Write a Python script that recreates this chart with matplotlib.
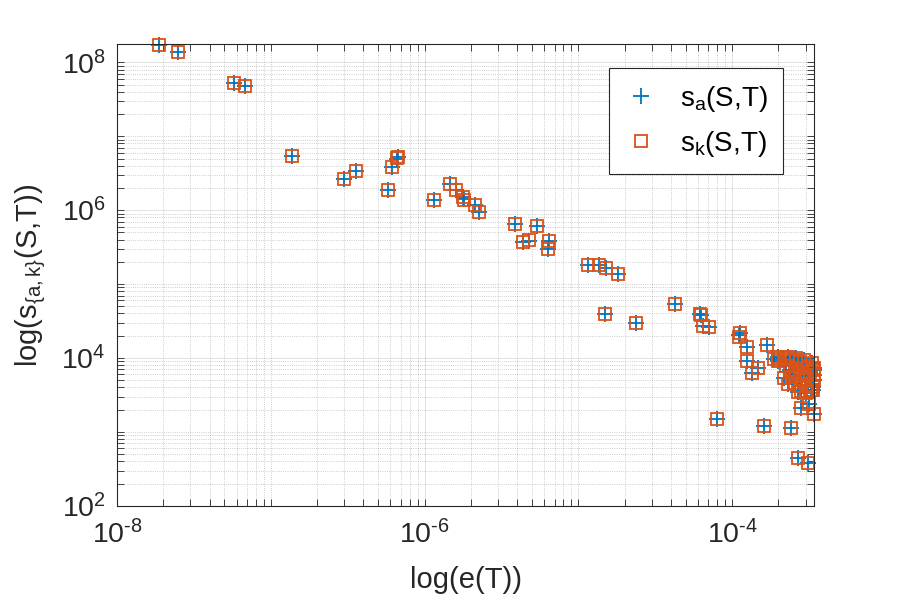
import numpy as np
import matplotlib.pyplot as plt

plt.rcParams['font.family'] = ['Liberation Sans', 'DejaVu Sans']
plt.rcParams['mathtext.fontset'] = 'custom'
plt.rcParams['mathtext.rm'] = 'Liberation Sans'
plt.rcParams['mathtext.it'] = 'Liberation Sans'
plt.rcParams['mathtext.default'] = 'regular'

# e(T) values
e_T = [1.88e-8, 2.5e-8, 5.8e-8, 6.8e-8, 1.38e-7, 3.0e-7, 3.6e-7, 5.8e-7, 6.17e-7,
       6.6e-7, 6.7e-7, 1.15e-6, 1.47e-6, 1.61e-6, 1.77e-6, 1.80e-6, 2.14e-6, 2.27e-6,
       3.89e-6, 5.38e-6, 4.38e-6, 4.77e-6, 6.47e-6, 6.37e-6, 1.16e-5, 1.36e-5,
       1.51e-5, 1.82e-5, 1.5e-5, 2.38e-5, 4.26e-5, 6.18e-5, 6.3e-5, 6.49e-5, 7.03e-5,
       1.12e-4, 1.11e-4, 1.25e-4, 1.69e-4, 1.25e-4, 1.48e-4, 1.35e-4, 1.87e-4, 2.0e-4,
       # dense cluster at the right edge
       1.99e-4, 2.17e-4, 2.31e-4, 2.45e-4, 2.60e-4, 2.76e-4, 2.93e-4, 3.11e-4, 3.30e-4,
       3.42e-4, 3.42e-4, 2.17e-4, 2.38e-4, 2.56e-4, 2.76e-4, 2.97e-4, 3.21e-4, 3.40e-4,
       2.31e-4, 2.56e-4, 2.84e-4, 3.11e-4, 3.35e-4, 2.68e-4, 3.02e-4, 3.25e-4, 3.42e-4,
       2.24e-4, 2.76e-4, 2.45e-4,
       2.8e-4, 3.37e-4, 2.8e-4, 3.16e-4, 3.4e-4,
       8.0e-5, 1.62e-4, 2.42e-4, 2.69e-4, 3.13e-4]

s_a = [1.71e8, 1.36e8, 5.2e7, 4.75e7, 5.37e6, 2.62e6, 3.37e6, 1.86e6, 3.81e6,
       5.0e6, 5.3e6, 1.36e6, 2.25e6, 1.86e6, 1.5e6, 1.4e6, 1.17e6, 9.4e5,
       6.47e5, 6.08e5, 3.73e5, 3.85e5, 3.85e5, 2.97e5, 1.81e5, 1.81e5,
       1.64e5, 1.36e5, 3.94e4, 2.97e4, 5.37e4, 3.94e4, 3.8e4, 2.73e4, 2.62e4,
       2.18e4, 2.05e4, 1.41e4, 1.51e4, 9.1e3, 7.33e3, 6.27e3, 9.7e3, 9.0e3,
       1.04e4, 1.01e4, 1.04e4, 9.5e3, 1.01e4, 8.9e3, 9.5e3, 7.9e3, 8.6e3,
       7.4e3, 5.9e3, 5.4e3, 6.95e3, 6.1e3, 7.4e3, 5.77e3, 6.5e3, 5.1e3,
       4.5e3, 4.6e3, 5.1e3, 4.35e3, 4.1e3, 3.5e3, 3.4e3, 3.73e3, 6.95e3,
       7.9e3, 4.2e3, 5.6e3,
       3.54e3, 3.74e3, 2.13e3, 2.39e3, 1.76e3,
       1.5e3, 1.2e3, 1.13e3, 446, 381]

s_k = [1.71e8, 1.36e8, 5.2e7, 4.75e7, 5.37e6, 2.62e6, 3.37e6, 1.86e6, 3.81e6,
       5.1e6, 5.3e6, 1.36e6, 2.25e6, 1.86e6, 1.52e6, 1.38e6, 1.17e6, 9.4e5,
       6.47e5, 6.08e5, 3.73e5, 3.9e5, 3.85e5, 2.97e5, 1.81e5, 1.81e5,
       1.64e5, 1.36e5, 3.94e4, 2.97e4, 5.37e4, 3.9e4, 3.8e4, 2.73e4, 2.62e4,
       2.2e4, 1.92e4, 1.41e4, 1.51e4, 9.1e3, 7.33e3, 6.27e3, 9.7e3, 9.0e3,
       1.04e4, 1.01e4, 1.04e4, 9.5e3, 1.01e4, 8.9e3, 9.5e3, 7.9e3, 8.6e3,
       7.4e3, 5.9e3, 5.4e3, 6.95e3, 6.1e3, 7.4e3, 5.77e3, 6.5e3, 5.1e3,
       4.5e3, 4.6e3, 5.1e3, 4.35e3, 4.1e3, 3.5e3, 3.4e3, 3.73e3, 6.95e3,
       7.9e3, 4.2e3, 5.6e3,
       3.54e3, 3.74e3, 2.13e3, 2.39e3, 1.76e3,
       1.5e3, 1.2e3, 1.13e3, 446, 381]

x_ticks = [1e-8, 1e-6, 1e-4]
x_labels = [r'$10^{\text{-}8}$', r'$10^{\text{-}6}$', r'$10^{\text{-}4}$']
y_ticks = [1e2, 1e4, 1e6, 1e8]
y_labels = [r'$10^{2}$', r'$10^{4}$', r'$10^{6}$', r'$10^{8}$']

blue = '#0072BD'
orange = '#D95319'
dark = '#262626'

fig = plt.figure(figsize=(9, 6), dpi=100)
ax = fig.add_axes([0.13, 0.157, 0.7748, 0.769])

ax.plot(e_T, s_a, '+', color=blue, ms=11, mew=1.3, clip_on=False, label=r's$_a$(S,T)')
ax.plot(e_T, s_k, 's', color=orange, mfc='none', ms=9, mew=1.3, clip_on=False,
        label=r's$_k$(S,T)')

ax.set_xscale('log')
ax.set_yscale('log')
ax.set_xlim(1e-8, 3.42e-4)
ax.set_ylim(1e2, 1.75e8)

ax.set_xticks(x_ticks)
ax.set_yticks(y_ticks)
xminor = [k * 10.0**n for n in range(-8, -3) for k in range(1, 10)]
xminor = [v for v in xminor if v not in x_ticks and v <= 3.42e-4]
yminor = [k * 10.0**n for n in range(2, 9) for k in range(1, 10)]
yminor = [v for v in yminor if v not in y_ticks and v <= 1.75e8]
ax.set_xticks(xminor, minor=True)
ax.set_yticks(yminor, minor=True)
ax.set_xticklabels(x_labels)
ax.set_yticklabels(y_labels)
ax.tick_params(which='minor', labelbottom=False, labelleft=False)

ax.grid(True, which='major', color=dark, alpha=0.15, lw=0.6, ls='-')
ax.grid(True, which='minor', color=dark, alpha=0.3, lw=0.6, ls=':')
ax.set_axisbelow(True)

ax.tick_params(which='both', direction='in', top=True, right=True, length=5,
               width=0.6, colors=dark, labelsize=20.5)
ax.tick_params(axis='x', pad=10)
ax.tick_params(axis='y', pad=8)
for sp in ax.spines.values():
    sp.set_color(dark)
    sp.set_linewidth(0.8)

ax.set_xlabel('log(e(T))', fontsize=21, color=dark, labelpad=12)
ax.set_ylabel(r'log(s$_{\{a,k\}}$(S,T))', fontsize=21, color=dark, labelpad=10)

leg = ax.legend(loc='upper right', bbox_to_anchor=(0.9555, 0.948), borderaxespad=0,
                fontsize=20, fancybox=False, framealpha=1, edgecolor=dark,
                handlelength=1.2, handletextpad=0.8, borderpad=0.55, labelspacing=0.55)
leg.get_frame().set_linewidth(0.8)

fig.savefig('out.png', dpi=100)
